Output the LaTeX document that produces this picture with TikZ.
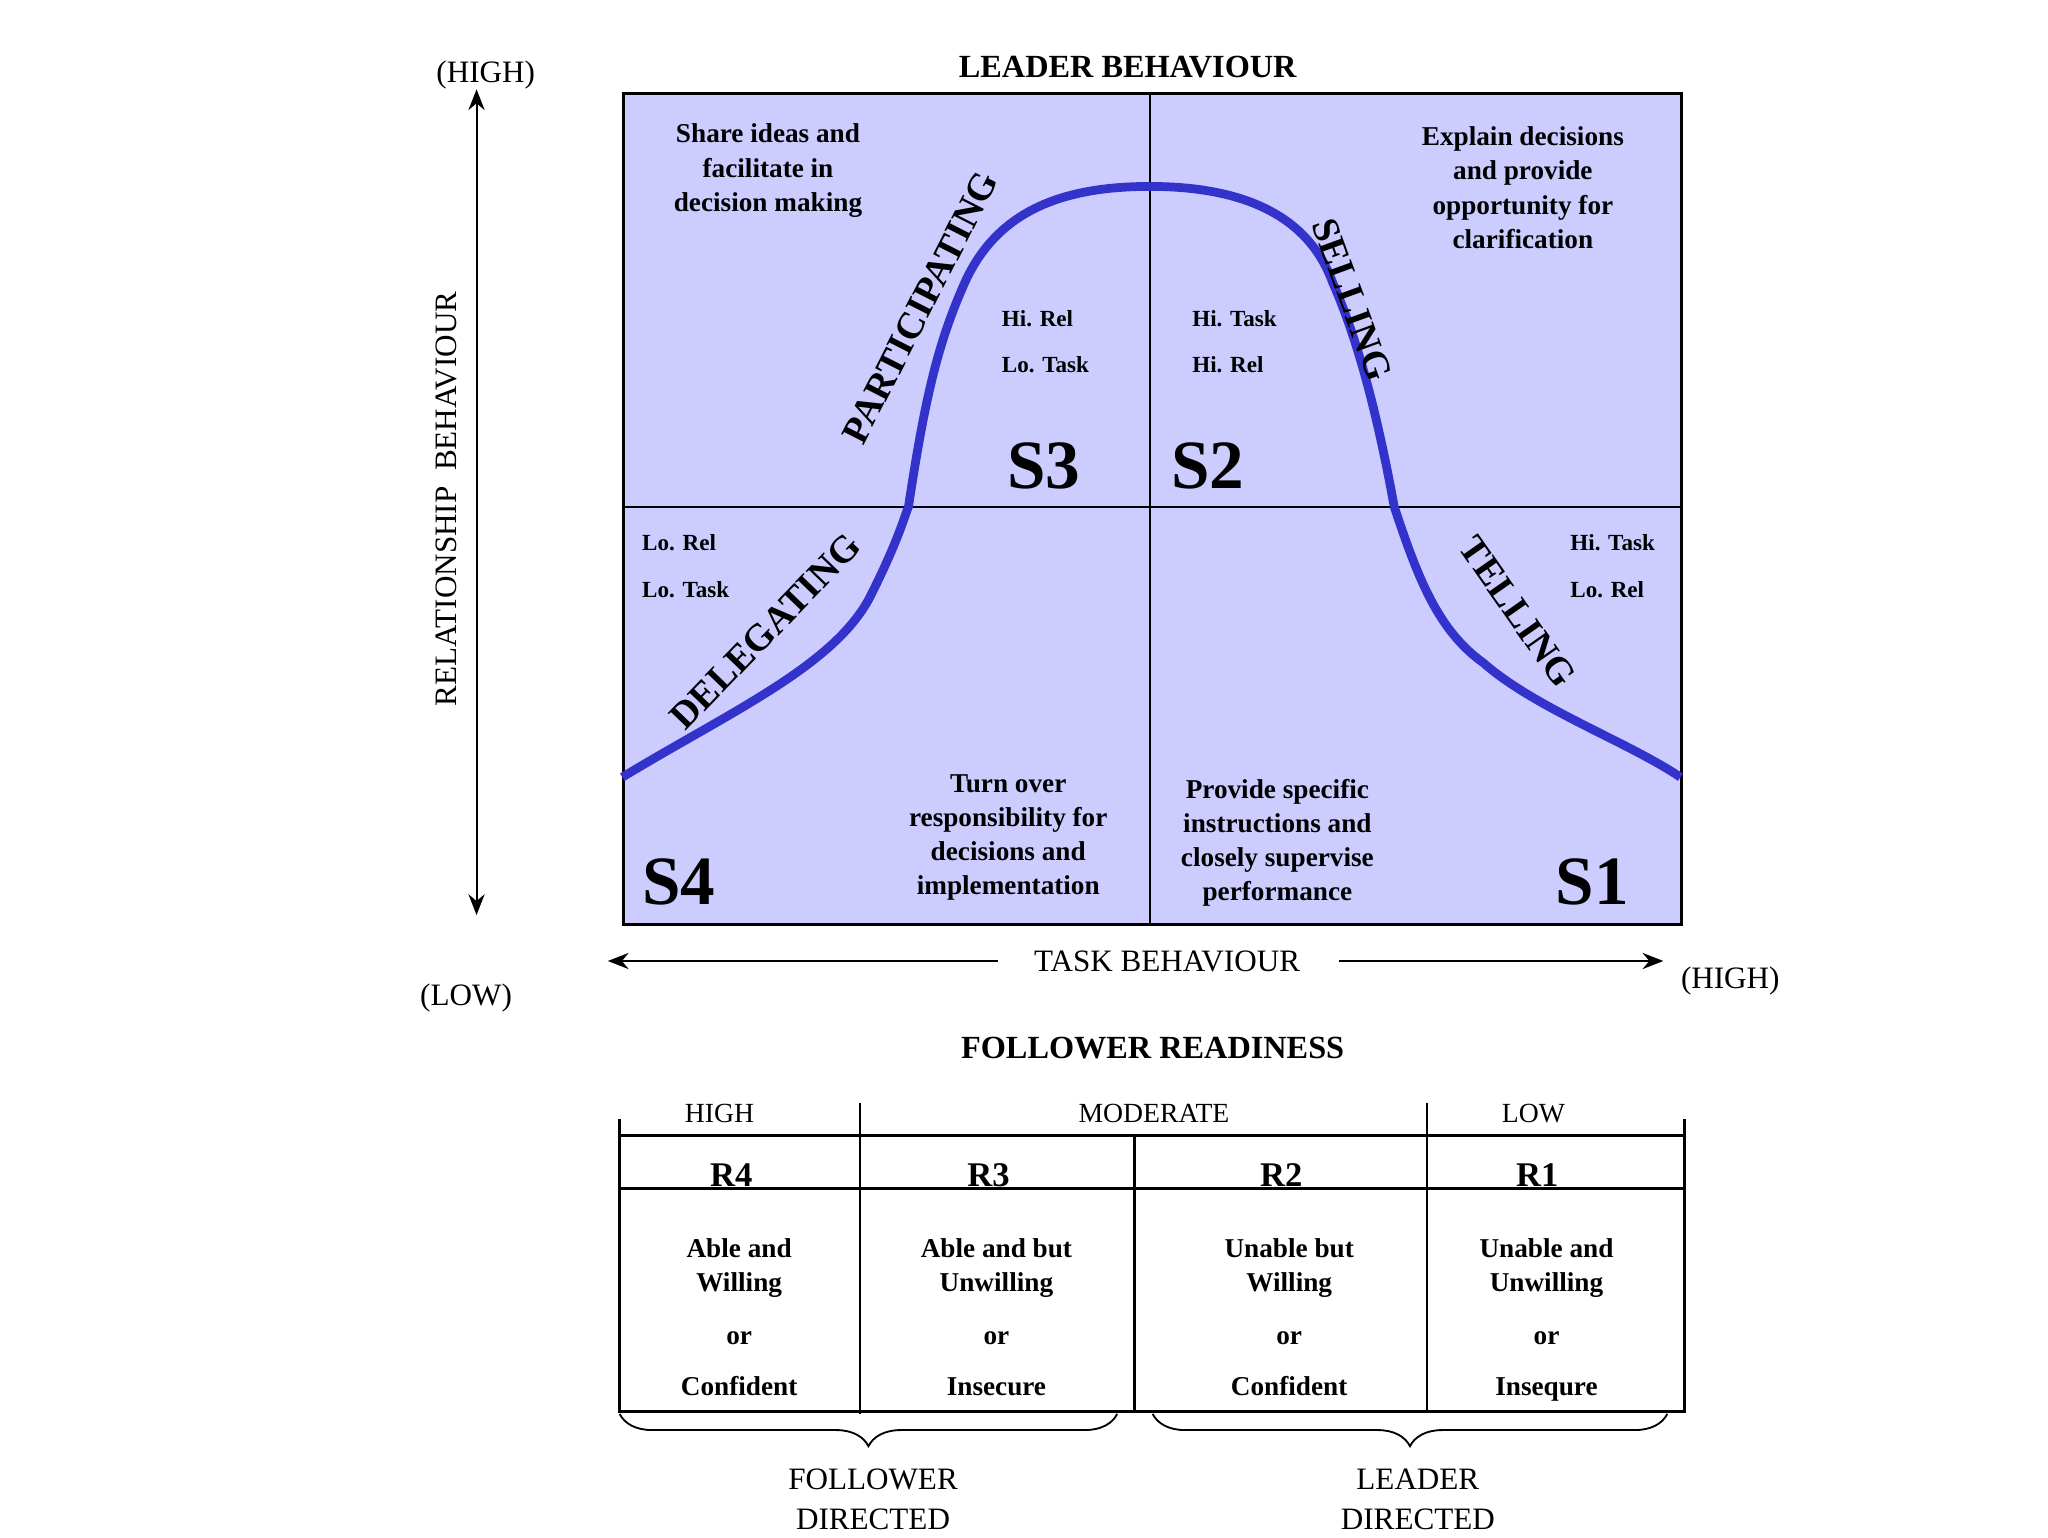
\documentclass[tikz,border=0pt]{standalone}
\usepackage{fontspec}
\setmainfont{Liberation Serif}
\usetikzlibrary{arrows.meta,decorations.pathreplacing}
\definecolor{quad}{RGB}{204,204,255}
\definecolor{curve}{RGB}{51,51,204}
\tikzset{
 bt/.style={font=\fontsize{11.8}{14.8}\selectfont\bfseries,align=center},
 sm/.style={font=\fontsize{10}{12}\selectfont\bfseries,anchor=west,align=left},
 big/.style={font=\fontsize{30}{32}\selectfont\bfseries},
 lab/.style={font=\fontsize{16.5}{17}\selectfont\bfseries},
 nt/.style={font=\fontsize{13.5}{16}\selectfont},
 hd/.style={font=\fontsize{14}{16}\selectfont\bfseries},
 cell/.style={font=\fontsize{11.8}{15}\selectfont\bfseries,align=center},
 ln/.style={line width=1.2pt},
}
\begin{document}
\begin{tikzpicture}[x=0.02cm,y=-0.02cm]
\useasboundingbox (0,0) rectangle (1560,1171);
\node[draw,ln,fill=quad,minimum width=806*0.02cm,minimum height=633*0.02cm,anchor=north west,inner sep=0] (box) at (474,70) {};
\draw[line width=0.9pt] (876,70) -- (876,703) (474,386) -- (1280,386);
\draw[curve,line width=3.8pt] (474,592) .. controls (560,540) and (640,505) .. (665,450)
  .. controls (685,410) and (690,390) .. (692,386)
  .. controls (705,300) and (715,260) .. (735,215)
  .. controls (760,160) and (810,142) .. (876,142)
  .. controls (940,142) and (995,160) .. (1015,215)
  .. controls (1035,260) and (1050,320) .. (1062,386)
  .. controls (1080,440) and (1095,480) .. (1130,505)
  .. controls (1170,540) and (1240,565) .. (1280,592);
\node[lab,rotate=63] (par) at (701,234) {PARTICIPATING};
\node[lab,rotate=-70] (sel) at (1030,228) {SELLING};
\node[lab,rotate=46] (del) at (583,481) {DELEGATING};
\node[lab,rotate=-55] (tel) at (1156,466) {TELLING};
\node[bt] (t1) at (585,130) {Share ideas and\\facilitate in\\decision making};
\node[bt] (t2) at (1160,143) {Explain decisions\\and provide\\opportunity for\\clarification};
\node[bt] (t3) at (768,638) {Turn over\\responsibility for\\decisions and\\implementation};
\node[bt] (t4) at (973,642) {Provide specific\\instructions and\\closely supervise\\performance};
\node[sm] (a1) at (757,243) {Hi. Rel}; \node[sm] (a2) at (757,278) {Lo. Task};
\node[sm] (b1) at (902,243) {Hi. Task}; \node[sm] (b2) at (902,278) {Hi. Rel};
\node[sm] (c1) at (483,413) {Lo. Rel}; \node[sm] (c2) at (483,449) {Lo. Task};
\node[sm] (d1) at (1190,413) {Hi. Task}; \node[sm] (d2) at (1190,449) {Lo. Rel};
\node[big] (s3) at (795,355) {S3};
\node[big] (s2) at (920,355) {S2};
\node[big] (s4) at (517,672) {S4};
\node[big] (s1) at (1213,672) {S1};
\node[hd] (lb) at (859,51) {LEADER BEHAVIOUR};
\node[nt] (hi1) at (370,57) {(HIGH)};
\node[nt] (lo) at (355,760) {(LOW)};
\node[nt] (hi2) at (1318,747) {(HIGH)};
\coordinate (vt) at (363,68); \coordinate (vb) at (363,697);
\draw[{Stealth[length=9pt,width=7pt]}-{Stealth[length=9pt,width=7pt]},line width=0.9pt] (vb) -- (vt);
\node[nt,rotate=90] (rb) at (340,380) {RELATIONSHIP\ \ BEHAVIOUR};
\node[nt] (tb) at (889,732) {TASK BEHAVIOUR};
\coordinate (hl) at (463,732); \coordinate (hr) at (1267,732);
\draw[-{Stealth[length=9pt,width=7pt]},line width=0.9pt] (760,732) -- (hl);
\draw[-{Stealth[length=9pt,width=7pt]},line width=0.9pt] (1020,732) -- (hr);
\node[hd] (fr) at (878,798) {FOLLOWER READINESS};
% table
\draw[ln] (472,852) -- (472,1075) -- (1283,1075) -- (1283,852);
\draw[ln] (472,865) -- (1283,865) (472,905) -- (1283,905);
\draw[ln] (655,840) -- (655,1077) (1087,840) -- (1087,1075) (864,865) -- (864,1075);
\node[nt,font=\fontsize{12}{14}\selectfont] (h1) at (548,848) {HIGH};
\node[nt,font=\fontsize{12}{14}\selectfont] (h2) at (879,848) {MODERATE};
\node[nt,font=\fontsize{12}{14}\selectfont] (h3) at (1168,848) {LOW};
\node[hd,font=\fontsize{15}{16}\selectfont\bfseries] (r4) at (557,895) {R4};
\node[hd,font=\fontsize{15}{16}\selectfont\bfseries] (r3) at (753,895) {R3};
\node[hd,font=\fontsize{15}{16}\selectfont\bfseries] (r2) at (976,895) {R2};
\node[hd,font=\fontsize{15}{16}\selectfont\bfseries] (r1) at (1171,895) {R1};
\foreach \x/\a/\b/\c in {563/Able and/Willing/Confident,759/Able and but/Unwilling/Insecure,982/Unable but/Willing/Confident,1178/Unable and/Unwilling/Insequre}{
 \node[cell] at (\x,966) {\a\\\b};
 \node[cell] at (\x,1019) {or};
 \node[cell,text height=8pt,text depth=2pt] at (\x,1058) {\c};
}
\coordinate (b1l) at (472,1077); \coordinate (b1r) at (851,1077);
\coordinate (b2l) at (878,1077); \coordinate (b2r) at (1270,1077);
\draw[decorate,decoration={brace,mirror,amplitude=14pt,raise=0pt},line width=0.8pt] (b1l) -- (b1r);
\draw[decorate,decoration={brace,mirror,amplitude=14pt,raise=0pt},line width=0.8pt] (b2l) -- (b2r);
\node[nt,align=center,font=\fontsize{13.5}{17.5}\selectfont] (fd) at (665,1142) {FOLLOWER\\DIRECTED};
\node[nt,align=center,font=\fontsize{13.5}{17.5}\selectfont] (ld) at (1080,1142) {LEADER\\DIRECTED};
\end{tikzpicture}
\end{document}
